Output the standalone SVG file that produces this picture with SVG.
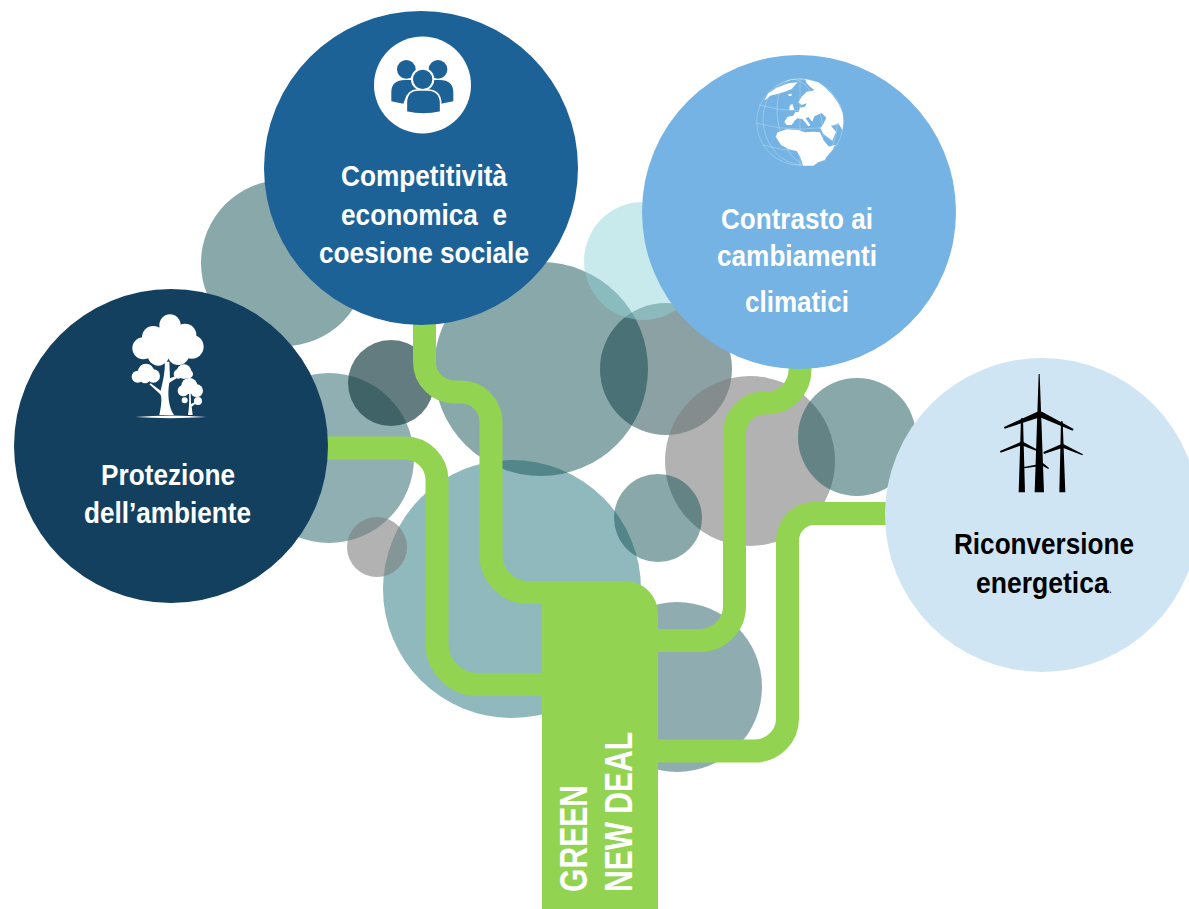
<svg xmlns="http://www.w3.org/2000/svg" width="1189" height="909" viewBox="0 0 1189 909">
<style>
.t{font-family:"Liberation Sans",Arial,sans-serif;font-weight:700;font-size:29px;fill:#fff}
.k{fill:#000}
.c{fill:none;stroke:#92d351;stroke-width:23}
.g{fill:#1b585c;fill-opacity:.52}
.d{fill:#1c4146;fill-opacity:.69}
.e{fill:#002e35;fill-opacity:.45}
.p{fill:#8cd3d7;fill-opacity:.48}
.y{fill:#7f7f7f;fill-opacity:.6}
.w{fill:#fff}
.b{fill:#1c6296}
.grid{fill:none;stroke:#fff;stroke-opacity:.5;stroke-width:1.5}
</style>
<rect width="1189" height="909" fill="#fff"/>
<g id="background-circles">
<circle cx="284" cy="263" r="83" class="g"/>
<circle cx="329" cy="458" r="85" fill="#8fafb2"/>
<circle cx="512" cy="589" r="129" fill="#8fb9bd"/>
<circle cx="677" cy="687" r="85" fill="#8fadb0"/>
<circle cx="377" cy="547" r="30" class="y"/>
<circle cx="541" cy="369" r="107" class="g"/>
<circle cx="391" cy="383" r="43" class="d"/>
<circle cx="666" cy="369" r="66" class="e"/>
<circle cx="643" cy="261" r="59" class="p"/>
<circle cx="750" cy="461" r="85" class="y"/>
<circle cx="857" cy="437" r="59" class="g"/>
<circle cx="658" cy="518" r="44" class="g"/>
</g>
<g id="connectors">
<path class="c" d="M424.500 320V362A30 30 0 0 0 454.500 392H461A30 30 0 0 1 491 422V555A37.500 37.500 0 0 0 528.500 592.500H570"/>
<path class="c" d="M320 448H405A32 32 0 0 1 437 480V643A41 41 0 0 0 478 684.500H560"/>
<path class="c" d="M640 640.500H700A34.500 34.500 0 0 0 734.500 606V433A30 30 0 0 1 764.500 403H767A33 33 0 0 0 800 370V360"/>
<path class="c" d="M640 751H755A32.500 32.500 0 0 0 787.500 718.500V540A27 27 0 0 1 814.500 513.500H895"/>
</g>
<g id="trunk">
<path d="M542 581H625A33 33 0 0 1 658 614V909H542Z" fill="#92d351"/>
<text class="t" transform="translate(587 892) rotate(-90)" textLength="107" lengthAdjust="spacingAndGlyphs" style="font-size:39px">GREEN</text>
<text class="t" transform="translate(632 892) rotate(-90)" textLength="160" lengthAdjust="spacingAndGlyphs" style="font-size:39px">NEW DEAL</text>
</g>
<g id="node-protezione">
<circle cx="171" cy="446" r="157" fill="#14405f"/>
<g transform="translate(110 300) scale(.3333)" class="w">
<circle cx="180" cy="75" r="32"/><circle cx="130" cy="112" r="34"/><circle cx="225" cy="105" r="34"/>
<circle cx="100" cy="145" r="33"/><circle cx="245" cy="140" r="36"/><circle cx="145" cy="165" r="32"/><circle cx="205" cy="162" r="33"/><circle cx="175" cy="125" r="50"/>
<circle cx="108" cy="215" r="24"/><circle cx="83" cy="230" r="18"/><circle cx="130" cy="228" r="20"/><circle cx="105" cy="234" r="16"/>
<circle cx="222" cy="215" r="22"/><circle cx="205" cy="222" r="14"/><circle cx="236" cy="222" r="13"/>
<circle cx="238" cy="258" r="24"/><circle cx="220" cy="272" r="17"/><circle cx="260" cy="272" r="19"/>
<circle cx="224" cy="301" r="9"/><circle cx="264" cy="303" r="12"/>
<path d="M148 345C156 310 156 288 150 282L118 253 122 250 152 272C160 240 165 215 165 185H178L180 235 205 225 207 230 178 248C172 280 175 320 192 345Z"/>
<path d="M234 345C238 320 238 300 237 275H242L243 312 262 303 263 306 245 320 248 345Z"/>
<path d="M76 351Q180 342 290 351Q180 358 76 351Z"/>
</g>
<text class="t" x="101" y="485" textLength="134" lengthAdjust="spacingAndGlyphs">Protezione</text>
<text class="t" x="84" y="523" textLength="167" lengthAdjust="spacingAndGlyphs">dell’ambiente</text>
</g>
<g id="node-competitivita">
<circle cx="421" cy="168" r="157" class="b"/>
<circle cx="422.500" cy="85" r="48.500" class="w"/>
<g transform="translate(340 30) scale(.3333)">
<circle cx="199" cy="118" r="28" class="b"/><circle cx="294" cy="118" r="28" class="b"/>
<path class="b" d="M154 214V185Q155 150 195 150H215L235 185 200 195 190 221ZM340 214V185Q338 150 300 150H280L260 185 295 195 303 221Z"/>
<circle cx="248" cy="148" r="32" class="b" stroke="#fff" stroke-width="6"/>
<path class="b" stroke="#fff" stroke-width="5" d="M199 246V218Q200 180 235 180H262Q300 180 302 218V246Q250 258 199 246Z"/>
</g>
<text class="t" x="341" y="186" textLength="166" lengthAdjust="spacingAndGlyphs">Competitività</text>
<text class="t" x="341" y="225" textLength="166" lengthAdjust="spacingAndGlyphs" xml:space="preserve">economica  e</text>
<text class="t" x="319" y="263" textLength="210" lengthAdjust="spacingAndGlyphs">coesione sociale</text>
</g>
<g id="node-contrasto">
<circle cx="799" cy="212" r="157" fill="#74b3e3"/>
<g transform="translate(755 75) scale(.3333)">
<circle class="grid" cx="135" cy="141" r="130"/>
<ellipse class="grid" cx="135" cy="141" rx="65" ry="130" transform="rotate(-12 135 141)"/>
<ellipse class="grid" cx="135" cy="141" rx="110" ry="130" transform="rotate(-12 135 141)"/>
<path class="grid" d="M135 11V271M12 90Q135 125 258 90M5 145Q135 180 265 145M25 210Q135 245 245 210"/>
<path class="w" d="M28 75L40 55 65 38 100 25 128 22 110 42 90 50 65 58 45 62 35 72Z"/>
<path class="w" d="M100 58L110 56 109 63 101 63Z"/>
<path class="w" d="M104 92L112 86 118 104 103 106Z"/>
<path class="w" d="M150 12L190 22Q240 55 262 110 268 140 262 165L250 145 238 150 228 152 243 170 232 197 206 178 196 160 205 147 214 128 200 114 178 124 172 140 160 126 152 130 166 150 160 154 142 132 128 130 120 136 110 150 95 150 88 140 98 125 115 122 120 112 132 110 135 98 150 95 155 85 140 90 130 82 140 65 155 50 170 48 178 45 165 35 155 25Z"/>
<path class="w" d="M62 185L68 172 95 163 130 165 150 172 175 170 195 172 205 195 222 215 240 210 232 225 215 245 210 255 190 262 175 272H145L135 245 125 228 100 222 78 210Z"/>
</g>
<text class="t" x="721" y="229" textLength="152" lengthAdjust="spacingAndGlyphs">Contrasto ai</text>
<text class="t" x="717" y="266" textLength="160" lengthAdjust="spacingAndGlyphs">cambiamenti</text>
<text class="t" x="745" y="312" textLength="104" lengthAdjust="spacingAndGlyphs">climatici</text>
</g>
<g id="node-riconversione">
<circle cx="1042" cy="515" r="157" fill="#d0e5f4"/>
<g transform="translate(980 360) scale(.3333)">
<path d="M176 42L179 42 192 397H164Z"/>
<path d="M72 201L172 155 186 155 281 207 278 212 180 172 74 206Z"/>
<path d="M123 175H129L135 397H116Z"/>
<path d="M243 184H248L256 397H238Z"/>
<path d="M60 273L122 246 130 246 170 268 168 272 125 256 62 278Z"/>
<path d="M190 276L243 253 251 253 309 283 307 286 248 263 192 282Z"/>
<path d="M132 321L190 310 207 324 205 327 187 317 133 325Z"/>
</g>
<text class="t k" x="954" y="554" textLength="180" lengthAdjust="spacingAndGlyphs">Riconversione</text>
<text class="t k" x="976" y="593" textLength="136" lengthAdjust="spacingAndGlyphs">energetica<tspan style="font-size:13px;font-weight:400">.</tspan></text>
</g>
</svg>
